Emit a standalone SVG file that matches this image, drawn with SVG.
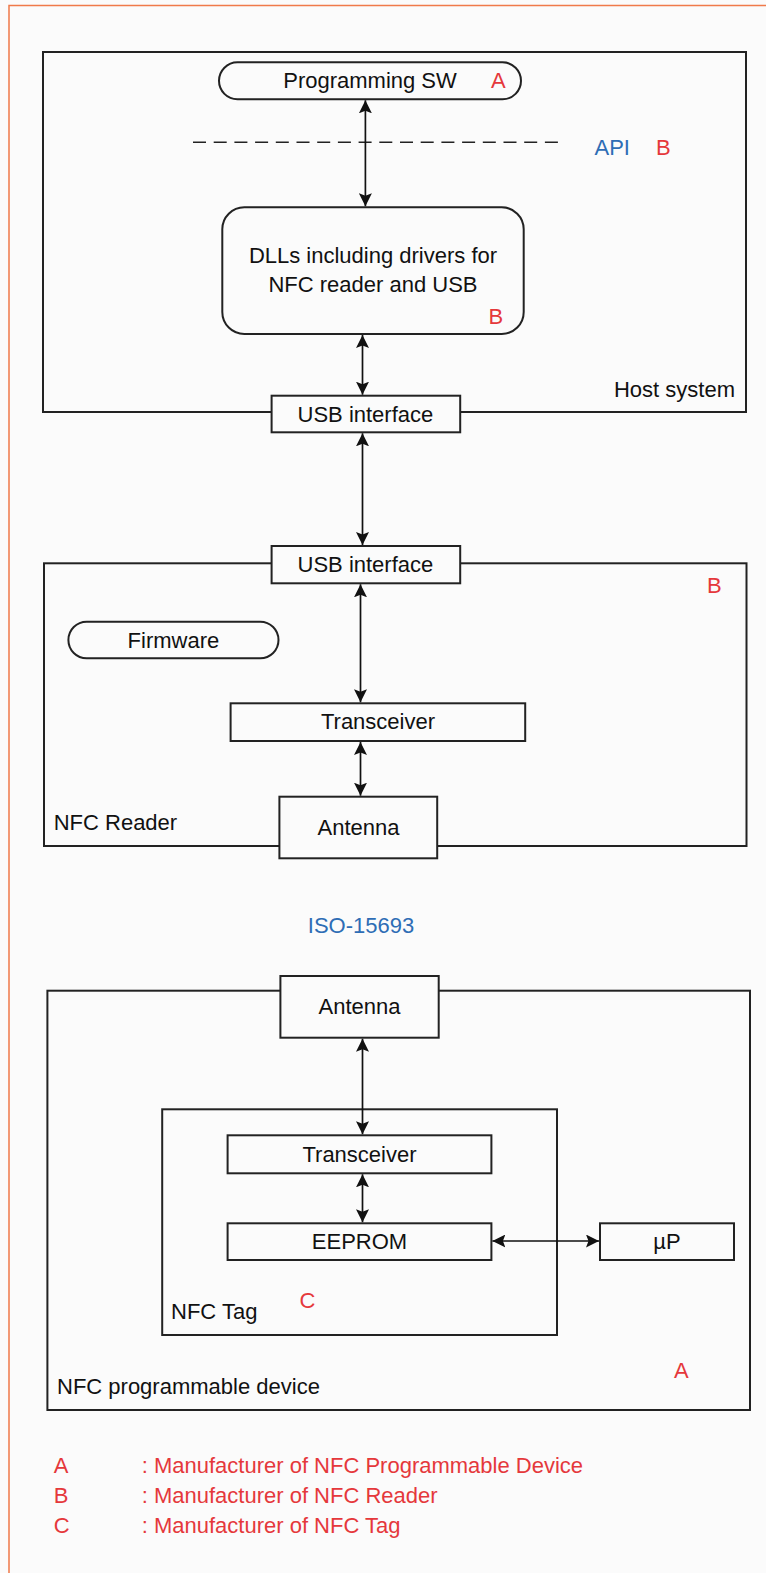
<svg xmlns="http://www.w3.org/2000/svg" width="766" height="1573" viewBox="0 0 766 1573">
<style>
.bg{fill:#fbfbfb}
.box{fill:#fbfbfb;stroke:#222;stroke-width:2}
.cont{fill:none;stroke:#222;stroke-width:2}
.t{font-family:"Liberation Sans",Arial,sans-serif;font-size:22px;fill:#111}
.r{fill:#e5383b}
.bl{fill:#2e6db5}
.c{text-anchor:middle}
.con{stroke:#111;stroke-width:1.7;fill:none}
</style>
<defs>
<marker id="ah" viewBox="0 0 13 13" refX="13" refY="6.5" markerWidth="13" markerHeight="13" markerUnits="userSpaceOnUse" orient="auto-start-reverse">
<path d="M0,0 L13,6.5 L0,13 L2.5,6.5 z" fill="#111"/>
</marker>
</defs>
<rect class="bg" x="0" y="0" width="766" height="1573"/>
<rect x="9" y="5.5" width="820" height="1620" fill="none" stroke="#f07a4a" stroke-width="1.5"/>

<g id="host-system">
<rect class="cont" x="43" y="52" width="703" height="360"/>
<text class="t" x="735" y="397" text-anchor="end">Host system</text>
</g>
<g id="programming-sw">
<rect class="box" x="219" y="62.3" width="302" height="37" rx="18.5"/>
<text class="t c" x="370" y="88.3">Programming SW</text>
<text class="t r" x="491" y="88.3">A</text>
</g>
<g id="api">
<line x1="193" y1="142.3" x2="565" y2="142.3" stroke="#222" stroke-width="1.6" stroke-dasharray="13 7.7"/>
<text class="t bl" x="594.5" y="155">API</text>
<text class="t r" x="656" y="155">B</text>
</g>
<g id="dlls">
<rect class="box" x="222.3" y="207.3" width="301.4" height="126.7" rx="22"/>
<text class="t c" x="373" y="263.3">DLLs including drivers for</text>
<text class="t c" x="373" y="292.3">NFC reader and USB</text>
<text class="t r" x="488.5" y="324">B</text>
</g>

<g id="nfc-reader">
<rect class="cont" x="44" y="563.3" width="702.5" height="282.7"/>
<text class="t" x="53.7" y="830">NFC Reader</text>
<text class="t r" x="707" y="593.3">B</text>
</g>
<g id="usb-host">
<rect class="box" x="271.6" y="395.7" width="188.6" height="36.6"/>
<text class="t c" x="365.4" y="421.5">USB interface</text>
</g>
<g id="usb-reader">
<rect class="box" x="271.6" y="546" width="188.6" height="37.3"/>
<text class="t c" x="365.4" y="571.7">USB interface</text>
</g>
<g id="firmware">
<rect class="box" x="68.4" y="621.7" width="210.1" height="36.6" rx="18.3"/>
<text class="t c" x="173.4" y="647.7">Firmware</text>
</g>
<g id="transceiver-reader">
<rect class="box" x="230.6" y="703.3" width="294.6" height="37.7"/>
<text class="t c" x="378" y="729.3">Transceiver</text>
</g>
<g id="antenna-reader">
<rect class="box" x="279.4" y="796.7" width="157.8" height="61.6"/>
<text class="t c" x="358.5" y="835">Antenna</text>
</g>

<g id="iso">
<text class="t bl c" x="361" y="933.3">ISO-15693</text>
</g>

<g id="nfc-device">
<rect class="cont" x="47.4" y="990.7" width="702.6" height="419.3"/>
<text class="t" x="57" y="1394">NFC programmable device</text>
<text class="t r" x="674" y="1378.3">A</text>
</g>
<g id="antenna-device">
<rect class="box" x="280.4" y="976" width="158.3" height="61.7"/>
<text class="t c" x="359.5" y="1014.3">Antenna</text>
</g>
<g id="nfc-tag">
<rect class="cont" x="162.2" y="1109.3" width="394.8" height="225.7"/>
<text class="t" x="171" y="1319.3">NFC Tag</text>
<text class="t r" x="299.5" y="1308.3">C</text>
</g>
<g id="transceiver-tag">
<rect class="box" x="227.6" y="1135.3" width="263.8" height="38"/>
<text class="t c" x="359.5" y="1161.7">Transceiver</text>
</g>
<g id="eeprom">
<rect class="box" x="227.6" y="1223.3" width="263.8" height="36.7"/>
<text class="t c" x="359.5" y="1249.3">EEPROM</text>
</g>
<g id="up">
<rect class="box" x="600" y="1223.3" width="134" height="36.7"/>
<text class="t c" x="667" y="1249.3">µP</text>
</g>

<g id="connectors">
<line class="con" x1="365.4" y1="100.3" x2="365.4" y2="206.3" marker-start="url(#ah)" marker-end="url(#ah)"/>
<line class="con" x1="362.5" y1="335" x2="362.5" y2="394.7" marker-start="url(#ah)" marker-end="url(#ah)"/>
<line class="con" x1="362.5" y1="433.3" x2="362.5" y2="545" marker-start="url(#ah)" marker-end="url(#ah)"/>
<line class="con" x1="360.5" y1="584.3" x2="360.5" y2="702.3" marker-start="url(#ah)" marker-end="url(#ah)"/>
<line class="con" x1="360.5" y1="742" x2="360.5" y2="795.7" marker-start="url(#ah)" marker-end="url(#ah)"/>
<line class="con" x1="362.5" y1="1038.7" x2="362.5" y2="1134.3" marker-start="url(#ah)" marker-end="url(#ah)"/>
<line class="con" x1="362.5" y1="1174.3" x2="362.5" y2="1222.3" marker-start="url(#ah)" marker-end="url(#ah)"/>
<line class="con" x1="492.4" y1="1241" x2="599" y2="1241" marker-start="url(#ah)" marker-end="url(#ah)"/>
</g>

<g id="legend">
<text class="t r" x="53.7" y="1473.3">A</text>
<text class="t r" x="141.7" y="1473.3">: Manufacturer of NFC Programmable Device</text>
<text class="t r" x="53.7" y="1503.3">B</text>
<text class="t r" x="141.7" y="1503.3">: Manufacturer of NFC Reader</text>
<text class="t r" x="53.7" y="1533.3">C</text>
<text class="t r" x="141.7" y="1533.3">: Manufacturer of NFC Tag</text>
</g>
</svg>
